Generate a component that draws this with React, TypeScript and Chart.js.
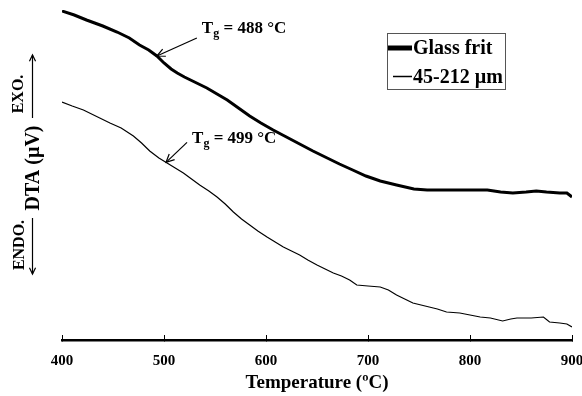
import React, { useEffect, useRef } from "react";
import { Chart, registerables } from "chart.js";

Chart.register(...registerables);

const FONT = "'Liberation Serif', 'Times New Roman', serif";

const glassT = [400, 412, 424, 440, 454, 466, 476, 485, 493, 500, 507, 513, 520, 530, 542, 552, 562, 573, 584, 595, 607, 620, 633, 646, 660, 672, 685, 698, 712, 728, 745, 758, 790, 817, 830, 842, 855, 865, 875, 888, 895, 900];
const glassV = [32.9, 32.5, 32.0, 31.4, 30.8, 30.2, 29.5, 29.0, 28.4, 27.7, 27.1, 26.7, 26.3, 25.8, 25.2, 24.6, 24.0, 23.2, 22.4, 21.7, 21.0, 20.3, 19.6, 18.9, 18.2, 17.6, 17.0, 16.4, 15.9, 15.5, 15.1, 15.0, 15.0, 15.0, 14.8, 14.7, 14.8, 14.9, 14.8, 14.7, 14.7, 14.3];

const powderT = [400, 410, 421, 435, 447, 458, 470, 478, 486, 495, 503, 511, 519, 527, 535, 544, 552, 560, 568, 576, 584, 592, 601, 609, 617, 625, 633, 641, 650, 658, 666, 674, 682, 689, 700, 712, 720, 728, 736, 744, 752, 760, 768, 777, 790, 800, 810, 820, 832, 840, 846, 860, 872, 878, 888, 895, 900];
const powderV = [23.8, 23.4, 23.0, 22.3, 21.7, 21.2, 20.4, 19.7, 18.9, 18.2, 17.7, 17.2, 16.7, 16.1, 15.5, 14.9, 14.3, 13.6, 12.8, 12.1, 11.5, 10.9, 10.3, 9.8, 9.3, 8.9, 8.5, 8.0, 7.5, 7.1, 6.7, 6.4, 6.0, 5.5, 5.4, 5.3, 5.0, 4.5, 4.1, 3.7, 3.5, 3.3, 3.1, 2.8, 2.7, 2.5, 2.3, 2.2, 1.9, 2.1, 2.2, 2.2, 2.3, 1.8, 1.7, 1.6, 1.3];

const seriesLabels = ["Glass frit", "45-212 µm"];
const xTicks = [400, 500, 600, 700, 800, 900];
const tgLabels = ["488 °C", "499 °C"];
const tgPointT = [493, 502];

function arrow(ctx: CanvasRenderingContext2D, x1: number, y1: number, x2: number, y2: number, head: number) {
  ctx.beginPath();
  ctx.moveTo(x1, y1);
  ctx.lineTo(x2, y2);
  ctx.stroke();
  const a = Math.atan2(y2 - y1, x2 - x1);
  ctx.beginPath();
  ctx.moveTo(x2 - head * Math.cos(a - 0.45), y2 - head * Math.sin(a - 0.45));
  ctx.lineTo(x2, y2);
  ctx.lineTo(x2 - head * Math.cos(a + 0.45), y2 - head * Math.sin(a + 0.45));
  ctx.stroke();
}

function interp(ts: number[], vs: number[], t: number) {
  for (let i = 1; i < ts.length; i++) {
    if (t <= ts[i]) {
      const f = (t - ts[i - 1]) / (ts[i] - ts[i - 1]);
      return vs[i - 1] + f * (vs[i] - vs[i - 1]);
    }
  }
  return vs[vs.length - 1];
}

const decorPlugin = {
  id: "decor",
  afterDraw(chart: any) {
    const ctx = chart.ctx as CanvasRenderingContext2D;
    const xs = chart.scales.x;
    const ys = chart.scales.y;
    ctx.save();
    ctx.fillStyle = "#000";
    ctx.strokeStyle = "#000";
    ctx.lineWidth = 1.2;

    // y label
    ctx.save();
    ctx.translate(34, 168);
    ctx.rotate(-Math.PI / 2);
    ctx.font = `bold 20px ${FONT}`;
    ctx.textAlign = "center";
    ctx.textBaseline = "middle";
    ctx.fillText("DTA (µV)", 0, 0);
    ctx.restore();

    // EXO / ENDO
    ctx.save();
    ctx.font = `bold 16px ${FONT}`;
    ctx.textAlign = "center";
    ctx.textBaseline = "middle";
    ctx.translate(19, 94);
    ctx.rotate(-Math.PI / 2);
    ctx.fillText("EXO.", 0, 0);
    ctx.restore();
    ctx.save();
    ctx.font = `bold 16px ${FONT}`;
    ctx.textAlign = "center";
    ctx.textBaseline = "middle";
    ctx.translate(20, 245);
    ctx.rotate(-Math.PI / 2);
    ctx.fillText("ENDO.", 0, 0);
    ctx.restore();
    arrow(ctx, 32.5, 118, 32.5, 55, 7);
    arrow(ctx, 32.5, 218, 32.5, 274, 7);

    // Tg annotations
    const curves = [
      { t: glassT, v: glassV, dx: 40, dy: -18 },
      { t: powderT, v: powderV, dx: 21, dy: -20 },
    ];
    curves.forEach((c, i) => {
      const tx = xs.getPixelForValue(tgPointT[i]);
      const ty = ys.getPixelForValue(interp(c.t, c.v, tgPointT[i]));
      const sx = tx + c.dx;
      const sy = ty + c.dy;
      ctx.lineWidth = 1.2;
      arrow(ctx, sx, sy, tx, ty, 9);
      ctx.textBaseline = "alphabetic";
      ctx.textAlign = "left";
      let x = sx + 5;
      const base = sy - 5 + (i === 0 ? 0 : 6);
      ctx.font = `bold 17px ${FONT}`;
      ctx.fillText("T", x, base);
      x += ctx.measureText("T").width;
      ctx.font = `bold 12px ${FONT}`;
      ctx.fillText("g", x, base + 4);
      x += ctx.measureText("g").width;
      ctx.font = `bold 17px ${FONT}`;
      ctx.fillText(" = " + tgLabels[i], x, base);
    });

    // legend
    ctx.lineWidth = 1;
    ctx.strokeStyle = "#555";
    ctx.strokeRect(387.5, 33.5, 118, 56);
    ctx.strokeStyle = "#000";
    ctx.font = `bold 20px ${FONT}`;
    ctx.textBaseline = "middle";
    ctx.textAlign = "left";
    chart.data.datasets.forEach((ds: any, i: number) => {
      const y = 48 + i * 28.5;
      ctx.lineWidth = i === 0 ? 5 : 1.5;
      ctx.beginPath();
      ctx.moveTo(i === 0 ? 388 : 393, y);
      ctx.lineTo(412, y);
      ctx.stroke();
      ctx.fillText(ds.label, 413, y + 1);
    });
    ctx.restore();
  },
};

export default function App() {
  const ref = useRef<HTMLCanvasElement>(null);
  useEffect(() => {
    if (!ref.current) return;
    const chart = new Chart(ref.current, {
      type: "line",
      data: {
        datasets: [
          {
            label: seriesLabels[0],
            data: glassT.map((t, i) => ({ x: t, y: glassV[i] })),
            borderColor: "#000",
            borderWidth: 3,
            pointRadius: 0,
            tension: 0,
          },
          {
            label: seriesLabels[1],
            data: powderT.map((t, i) => ({ x: t, y: powderV[i] })),
            borderColor: "#000",
            borderWidth: 1.2,
            pointRadius: 0,
            tension: 0,
          },
        ],
      },
      options: {
        responsive: true,
        maintainAspectRatio: false,
        animation: false,
        layout: { padding: { left: 62, right: 10, top: 10, bottom: 0 } },
        plugins: { legend: { display: false }, tooltip: { enabled: false } },
        scales: {
          x: {
            type: "linear",
            min: 400,
            max: 900,
            afterBuildTicks: (s: any) => {
              s.ticks = xTicks.map((v) => ({ value: v }));
            },
            afterFit: (s: any) => {
              s.height = 56;
              s.paddingLeft = 0;
              s.paddingRight = 0;
            },
            ticks: {
              color: "#000",
              font: { family: FONT, size: 15, weight: "bold" },
              padding: 17,
              maxRotation: 0,
            },
            grid: {
              drawOnChartArea: false,
              drawTicks: true,
              tickLength: -5,
              color: "#000",
              lineWidth: 1,
            },
            border: { display: true, color: "#000", width: 2.5 },
            title: {
              display: true,
              text: "Temperature (ºC)",
              color: "#000",
              font: { family: FONT, size: 19, weight: "bold" },
              padding: { top: 0, bottom: 2 },
            },
          },
          y: {
            display: false,
            min: 0,
            max: 33,
          },
        },
      },
      plugins: [decorPlugin],
    });
    return () => chart.destroy();
  }, []);
  return (
    <div style={{ position: "fixed", left: 0, top: 0, width: 582, height: 396, background: "#fff" }}>
      <canvas ref={ref} />
    </div>
  );
}
